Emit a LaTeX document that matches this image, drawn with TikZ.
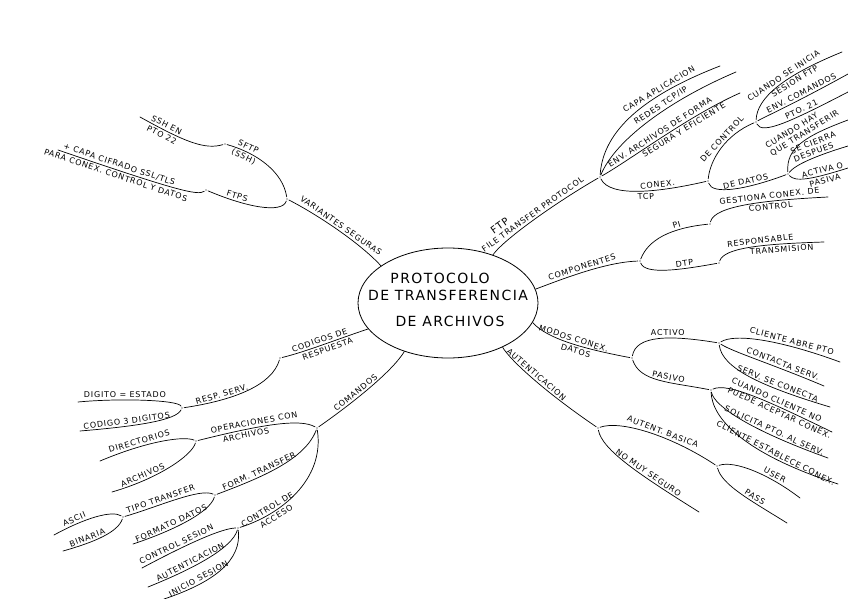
\documentclass[tikz,border=0pt]{standalone}
\usepackage{fontspec}
\setmainfont{DejaVu Sans}
\newfontfamily\handfont[LetterSpace=10]{DejaVu Sans}
\usetikzlibrary{shapes.geometric}
\tikzset{
  branch/.style={line width=0.7pt, line cap=round},
  hub/.style={circle, fill, inner sep=0pt, minimum size=1.3pt, outer sep=1.5pt},
  lbl/.style={sloped, above, font=\handfont\fontsize{8}{9}\selectfont, inner sep=2pt},
  sublbl/.style={sloped, below, font=\handfont\fontsize{8}{9}\selectfont, inner sep=2pt},
  title/.style={font=\handfont\fontsize{14}{16}\selectfont}
}
\begin{document}
\begin{tikzpicture}[x=1pt, y=-1pt]
  \useasboundingbox (0,0) rectangle (848,599);
  \node[draw, ellipse, line width=0.8pt, minimum width=180pt, minimum height=110pt] (root) at (448,303) {};
  \node[title] (t1) at (440,278) {PROTOCOLO};
  \node[title] (t2) at (448,295) {DE TRANSFERENCIA};
  \node[title] (t3) at (450,321) {DE ARCHIVOS};

  \node[hub] (var) at (287,199) {};
  \node[hub] (sftp) at (225,144) {};
  \node[hub] (ftps) at (206,190) {};
  \node[hub] (ftp) at (600,177) {};
  \node[hub] (conex) at (708,181) {};
  \node[hub] (ctrl) at (756,122) {};
  \node[hub] (datos) at (788,174) {};
  \node[hub] (comp) at (640,261) {};
  \node[hub] (pi) at (710,224) {};
  \node[hub] (dtp) at (719,263) {};
  \node[hub] (modos) at (632,358) {};
  \node[hub] (act) at (719,343) {};
  \node[hub] (pas) at (711,390) {};
  \node[hub] (aut) at (598,428) {};
  \node[hub] (bas) at (717,466) {};
  \node[hub] (cod) at (280,358) {};
  \node[hub] (resp) at (182,408) {};
  \node[hub] (com) at (317,428) {};
  \node[hub] (oper) at (196,441) {};
  \node[hub] (form) at (215,495) {};
  \node[hub] (tipo) at (123,517) {};
  \node[hub] (acc) at (238,528) {};

  \coordinate (sshend) at (140,117);
  \coordinate (ftpsend) at (58,150);
  \coordinate (capaend) at (720,66);
  \coordinate (redesend) at (736,72);
  \coordinate (envend) at (740,93);
  \coordinate (sesend) at (842,52);
  \coordinate (cmdend) at (848,74);
  \coordinate (ptoend) at (848,92);
  \coordinate (hayend) at (848,120);
  \coordinate (cierraend) at (848,146);
  \coordinate (modoend) at (848,168);
  \coordinate (gestend) at (828,197);
  \coordinate (respend) at (824,242);
  \coordinate (abreend) at (840,362);
  \coordinate (contend) at (824,386);
  \coordinate (servend) at (830,407);
  \coordinate (noend) at (832,432);
  \coordinate (solend) at (828,458);
  \coordinate (estend) at (838,484);
  \coordinate (nomuyend) at (699,512);
  \coordinate (userend) at (800,498);
  \coordinate (passend) at (787,523);
  \coordinate (digend) at (78,402);
  \coordinate (cod3end) at (80,431);
  \coordinate (dirend) at (100,461);
  \coordinate (archend) at (112,492);
  \coordinate (fmtend) at (133,544);
  \coordinate (asciiend) at (54,535);
  \coordinate (binend) at (63,551);
  \coordinate (ctrlsesend) at (142,568);
  \coordinate (aut2end) at (148,587);
  \coordinate (inicend) at (164,599);

  \draw[branch] (root.151) .. controls (360,243) and (318,215) .. (var) node[lbl, pos=0.5] (varlbl) {VARIANTES SEGURAS};
  \draw[branch] (var) .. controls (283,172) and (257,153) .. (sftp) node[lbl, pos=0.78] (sftplbl) {SFTP} node[sublbl, pos=0.78] (sshlbl) {(SSH)};
  \draw[branch] (sftp) .. controls (205,150) and (185,142) .. (sshend) node[lbl, pos=0.8] (sshenlbl) {SSH EN} node[sublbl, pos=0.8] (pto22lbl) {PTO 22};
  \draw[branch] (var) .. controls (282,214) and (246,207) .. (ftps) node[lbl, pos=0.75] (ftpslbl) {FTPS};
  \draw[branch] (ftps) .. controls (198,196) and (175,190) .. (ftpsend) node[lbl, pos=0.8] (capalbl2) {+ CAPA CIFRADO SSL/TLS} node[sublbl, pos=0.8] (paralbl) {PARA CONEX. CONTROL Y DATOS};

  \draw[branch] (root.47) .. controls (505,238) and (560,200) .. (ftp) node[lbl, pos=0.5, align=left] (ftplbl) {\hspace*{18pt}{\fontsize{10}{11}\selectfont FTP}\\FILE TRANSFER PROTOCOL};
  \draw[branch] (ftp) .. controls (603,130) and (645,95) .. (capaend) node[lbl, pos=0.7] (capalbl) {CAPA APLICACION};
  \draw[branch] (ftp) .. controls (615,140) and (670,100) .. (redesend) node[lbl, pos=0.6] (redeslbl) {REDES TCP/IP};
  \draw[branch] (ftp) .. controls (630,160) and (690,115) .. (envend) node[lbl, pos=0.5] (envlbl) {ENV. ARCHIVOS DE FORMA} node[sublbl, pos=0.62] (segulbl) {SEGURA Y EFICIENTE};
  \draw[branch] (ftp) .. controls (610,198) and (660,192) .. (conex) node[lbl, pos=0.65] (conexlbl) {CONEX.} node[sublbl, pos=0.55] (tcplbl) {TCP};
  \draw[branch] (conex) .. controls (710,160) and (725,135) .. (ctrl) node[lbl, pos=0.6] (ctrllbl) {DE CONTROL};
  \draw[branch] (conex) .. controls (712,195) and (745,190) .. (datos) node[lbl, pos=0.65] (datoslbl) {DE DATOS};
  \draw[branch] (ctrl) .. controls (757,98) and (783,76) .. (sesend) node[lbl, pos=0.6] (cuandolbl) {CUANDO SE INICIA} node[sublbl, pos=0.65] (sesionlbl) {SESION FTP};
  \draw[branch] (ctrl) .. controls (762,118) and (790,106) .. (cmdend) node[lbl, pos=0.7] (cmdlbl) {ENV. COMANDOS};
  \draw[branch] (ctrl) .. controls (762,135) and (790,122) .. (ptoend) node[lbl, pos=0.7] (ptolbl) {PTO. 21};
  \draw[branch] (datos) .. controls (786,148) and (805,136) .. (hayend) node[lbl, pos=0.6, align=left] (haylbl) {CUANDO HAY\\QUE TRANSFERIR};
  \draw[branch] (datos) .. controls (795,165) and (815,156) .. (cierraend) node[lbl, pos=0.65, align=left] (cierralbl) {SE CIERRA\\DESPUES};
  \draw[branch] (datos) .. controls (795,182) and (810,180) .. (modoend) node[lbl, pos=0.75] (activalbl) {ACTIVA O} node[sublbl, pos=0.75] (pasivalbl) {PASIVA};

  \draw[branch] (root.9) .. controls (560,280) and (605,262) .. (comp) node[lbl, pos=0.5] (complbl) {COMPONENTES};
  \draw[branch] (comp) .. controls (648,240) and (670,228) .. (pi) node[lbl, pos=0.7] (pilbl) {PI};
  \draw[branch] (pi) .. controls (714,205) and (770,200) .. (gestend) node[lbl, pos=0.65] (gestlbl) {GESTIONA CONEX. DE} node[sublbl, pos=0.65] (gest2lbl) {CONTROL};
  \draw[branch] (comp) .. controls (645,275) and (680,270) .. (dtp) node[lbl, pos=0.7] (dtplbl) {DTP};
  \draw[branch] (dtp) .. controls (724,248) and (760,244) .. (respend) node[lbl, pos=0.6] (responlbl) {RESPONSABLE} node[sublbl, pos=0.75] (translbl) {TRANSMISION};

  \draw[branch] (root.347) .. controls (548,340) and (590,350) .. (modos) node[lbl, pos=0.5] (modoslbl) {MODOS CONEX.} node[sublbl, pos=0.55] (modos2lbl) {DATOS};
  \draw[branch] (modos) .. controls (636,335) and (670,335) .. (act) node[lbl, pos=0.6] (actlbl) {ACTIVO};
  \draw[branch] (modos) .. controls (640,382) and (670,382) .. (pas) node[lbl, pos=0.6] (paslbl) {PASIVO};
  \draw[branch] (act) .. controls (735,333) and (780,340) .. (abreend) node[lbl, pos=0.7] (abrelbl) {CLIENTE ABRE PTO};
  \draw[branch] (act) .. controls (733,352) and (772,364) .. (contend) node[lbl, pos=0.7] (contlbl) {CONTACTA SERV.};
  \draw[branch] (act) .. controls (722,368) and (760,386) .. (servend) node[lbl, pos=0.7] (servlbl) {SERV. SE CONECTA};
  \draw[branch] (pas) .. controls (728,382) and (770,402) .. (noend) node[lbl, pos=0.65] (nolbl) {CUANDO CLIENTE NO} node[sublbl, pos=0.7] (puedelbl) {PUEDE ACEPTAR CONEX.};
  \draw[branch] (pas) .. controls (714,406) and (750,430) .. (solend) node[lbl, pos=0.72] (sollbl) {SOLICITA PTO. AL SERV.};
  \draw[branch] (pas) .. controls (712,419) and (745,454) .. (estend) node[lbl, pos=0.72] (estlbl) {CLIENTE ESTABLECE CONEX.};

  \draw[branch] (root.321) .. controls (510,360) and (545,392) .. (aut) node[lbl, pos=0.5] (autlbl) {AUTENTICACION};
  \draw[branch] (aut) .. controls (620,420) and (670,435) .. (bas) node[lbl, pos=0.6] (baslbl) {AUTENT. BASICA};
  \draw[branch] (aut) .. controls (602,450) and (640,475) .. (nomuyend) node[lbl, pos=0.65] (nomuylbl) {NO MUY SEGURO};
  \draw[branch] (bas) .. controls (735,460) and (770,475) .. (userend) node[lbl, pos=0.7] (userlbl) {USER};
  \draw[branch] (bas) .. controls (722,485) and (750,500) .. (passend) node[lbl, pos=0.65] (passlbl) {PASS};

  \draw[branch] (root.198) .. controls (335,340) and (305,352) .. (cod) node[lbl, pos=0.5] (codlbl) {CODIGOS DE} node[sublbl, pos=0.45] (cod2lbl) {RESPUESTA};
  \draw[branch] (cod) .. controls (272,385) and (235,400) .. (resp) node[lbl, pos=0.72] (resplbl) {RESP. SERV.};
  \draw[branch] (resp) .. controls (178,400) and (120,398) .. (digend) node[lbl, pos=0.65] (diglbl) {DIGITO = ESTADO};
  \draw[branch] (resp) .. controls (176,420) and (140,426) .. (cod3end) node[lbl, pos=0.7] (cod3lbl) {CODIGO 3 DIGITOS};

  \draw[branch] (root.228) .. controls (392,372) and (350,405) .. (com) node[lbl, pos=0.6] (comlbl) {COMANDOS};
  \draw[branch] (com) .. controls (300,418) and (260,425) .. (oper) node[lbl, pos=0.65] (operlbl) {OPERACIONES CON} node[sublbl, pos=0.72] (oper2lbl) {ARCHIVOS};
  \draw[branch] (oper) .. controls (185,436) and (150,440) .. (dirend) node[lbl, pos=0.7] (dirlbl) {DIRECTORIOS};
  \draw[branch] (oper) .. controls (192,455) and (160,478) .. (archend) node[lbl, pos=0.75] (archlbl) {ARCHIVOS};
  \draw[branch] (com) .. controls (305,460) and (260,478) .. (form) node[lbl, pos=0.65] (formlbl) {FORM. TRANSFER};
  \draw[branch] (com) .. controls (325,480) and (280,515) .. (acc) node[lbl, pos=0.75] (acclbl) {CONTROL DE} node[sublbl, pos=0.72] (acc2lbl) {ACCESO};
  \draw[branch] (form) .. controls (200,488) and (160,506) .. (tipo) node[lbl, pos=0.65] (tipolbl) {TIPO TRANSFER};
  \draw[branch] (form) .. controls (210,512) and (175,530) .. (fmtend) node[lbl, pos=0.65] (fmtlbl) {FORMATO DATOS};
  \draw[branch] (tipo) .. controls (112,510) and (85,518) .. (asciiend) node[lbl, pos=0.75] (asciilbl) {ASCII};
  \draw[branch] (tipo) .. controls (118,532) and (95,542) .. (binend) node[lbl, pos=0.7] (binlbl) {BINARIA};
  \draw[branch] (acc) .. controls (222,528) and (185,545) .. (ctrlsesend) node[lbl, pos=0.7] (ctrlseslbl) {CONTROL SESION};
  \draw[branch] (acc) .. controls (232,548) and (195,568) .. (aut2end) node[lbl, pos=0.65] (aut2lbl) {AUTENTICACION};
  \draw[branch] (acc) .. controls (242,560) and (215,582) .. (inicend) node[lbl, pos=0.72] (iniclbl) {INICIO SESION};
\end{tikzpicture}
\end{document}
